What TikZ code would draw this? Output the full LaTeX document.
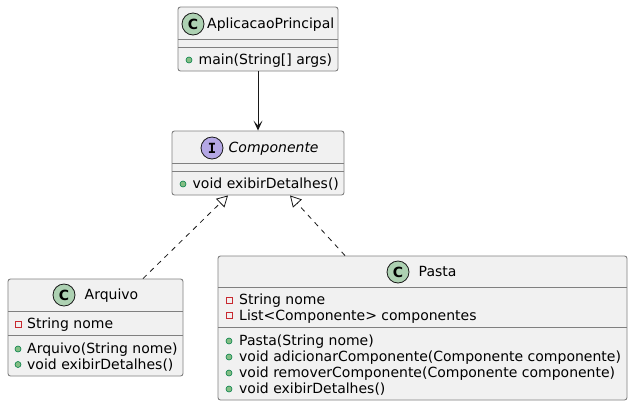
\documentclass[tikz,border=0pt]{standalone}
\usepackage{fontspec}
\setmainfont{DejaVu Sans}
\newfontfamily\monob{DejaVu Sans Mono}
\usetikzlibrary{arrows.meta}
\definecolor{boxfill}{HTML}{F1F1F1}
\definecolor{boxline}{HTML}{181818}
\definecolor{cfill}{HTML}{ADD1B2}
\definecolor{ifill}{HTML}{B4A7E5}
\definecolor{pubfill}{HTML}{84BE84}
\definecolor{publine}{HTML}{038048}
\definecolor{privline}{HTML}{C82930}
\tikzset{
  classbox/.style={draw=boxline!55, line width=0.9bp, fill=boxfill, rounded corners=2.5bp, inner sep=0pt},
  sepline/.style={draw=boxline!55, line width=0.9bp},
  txt/.style={anchor=base west, inner sep=0pt, font=\fontsize{14bp}{16bp}\selectfont},
  itxt/.style={txt, font=\fontsize{14bp}{16bp}\selectfont\itshape},
  badge/.style={circle, draw=boxline, line width=0.8bp, minimum size=22bp, inner sep=0pt, font=\fontsize{14bp}{16bp}\selectfont\bfseries},
  pub/.style={circle, draw=publine, fill=pubfill, line width=0.6bp, minimum size=6bp, inner sep=0pt},
  priv/.style={rectangle, draw=privline, line width=0.8bp, minimum size=6bp, inner sep=0pt},
  assoc/.style={draw=boxline, line width=1bp, -{Stealth[length=10bp,width=9bp,inset=5bp]}},
  real/.style={draw=boxline, line width=0.8bp, dash pattern=on 5bp off 5bp, -{Triangle[open,length=11bp,width=12bp,fill=white]}}
}
\begin{document}
\begin{tikzpicture}[x=1bp,y=-1bp]
\useasboundingbox[fill=white] (0,0) rectangle (632,406);

% AplicacaoPrincipal
\node[classbox, minimum width=160bp, minimum height=64bp] (app) at (258,39) {};
\draw[sepline] (178,39) -- (338,39) (178,47) -- (338,47);
\node[badge, fill=cfill] (appc) at (193,24) {C};
\node[txt] (appn) at (207,28.5) {AplicacaoPrincipal};
\node[pub] (appm1) at (189,60) {};
\node[txt] (appt1) at (198.5,64.5) {main(String[] args)};

% Componente
\node[classbox, minimum width=172bp, minimum height=64bp] (comp) at (258,163) {};
\draw[sepline] (172,163) -- (344,163) (172,171) -- (344,171);
\node[badge, fill=ifill, font=\fontsize{14bp}{16bp}\monob\bfseries] (compc) at (212,148) {I};
\node[itxt] (compn) at (228.5,152.5) {Componente};
\node[pub] (compm1) at (183,184) {};
\node[txt] (compt1) at (192.5,188.5) {void exibirDetalhes()};

% Arquivo
\node[classbox, minimum width=175bp, minimum height=97bp] (arq) at (95.5,327.5) {};
\draw[sepline] (8,311) -- (183,311) (8,335) -- (183,335);
\node[badge, fill=cfill] (arqc) at (64,295) {C};
\node[txt] (arqn) at (84.5,299.5) {Arquivo};
\node[priv] (arqa1) at (18,324) {};
\node[txt] (arqt1) at (27,328.5) {String nome};
\node[pub] (arqm1) at (18,349) {};
\node[txt] (arqt2) at (27,353.5) {Arquivo(String nome)};
\node[pub] (arqm2) at (18,364.5) {};
\node[txt] (arqt3) at (27,369) {void exibirDetalhes()};

% Pasta
\node[classbox, minimum width=409bp, minimum height=144bp] (pasta) at (422.5,328) {};
\draw[sepline] (218,287) -- (627,287) (218,327) -- (627,327);
\node[badge, fill=cfill] (pastac) at (398,272) {C};
\node[txt] (pastan) at (418.5,276.5) {Pasta};
\node[priv] (pastaa1) at (229,300) {};
\node[txt] (pastat1) at (239,304.5) {String nome};
\node[priv] (pastaa2) at (229,315.5) {};
\node[txt] (pastat2) at (239,320) {List<Componente> componentes};
\node[pub] (pastam1) at (229,341) {};
\node[txt] (pastat3) at (239,345.5) {Pasta(String nome)};
\node[pub] (pastam2) at (229,357) {};
\node[txt] (pastat4) at (239,361.5) {void adicionarComponente(Componente componente)};
\node[pub] (pastam3) at (229,373) {};
\node[txt] (pastat5) at (239,377.5) {void removerComponente(Componente componente)};
\node[pub] (pastam4) at (229,389) {};
\node[txt] (pastat6) at (239,393.5) {void exibirDetalhes()};

% connectors
\draw[assoc] (app.south) -- (comp.north);
\draw[real] ([xshift=47.5bp]arq.north) -- ([xshift=-30bp]comp.south);
\draw[real] ([xshift=-77.5bp]pasta.north) -- ([xshift=32bp]comp.south);
\end{tikzpicture}
\end{document}
